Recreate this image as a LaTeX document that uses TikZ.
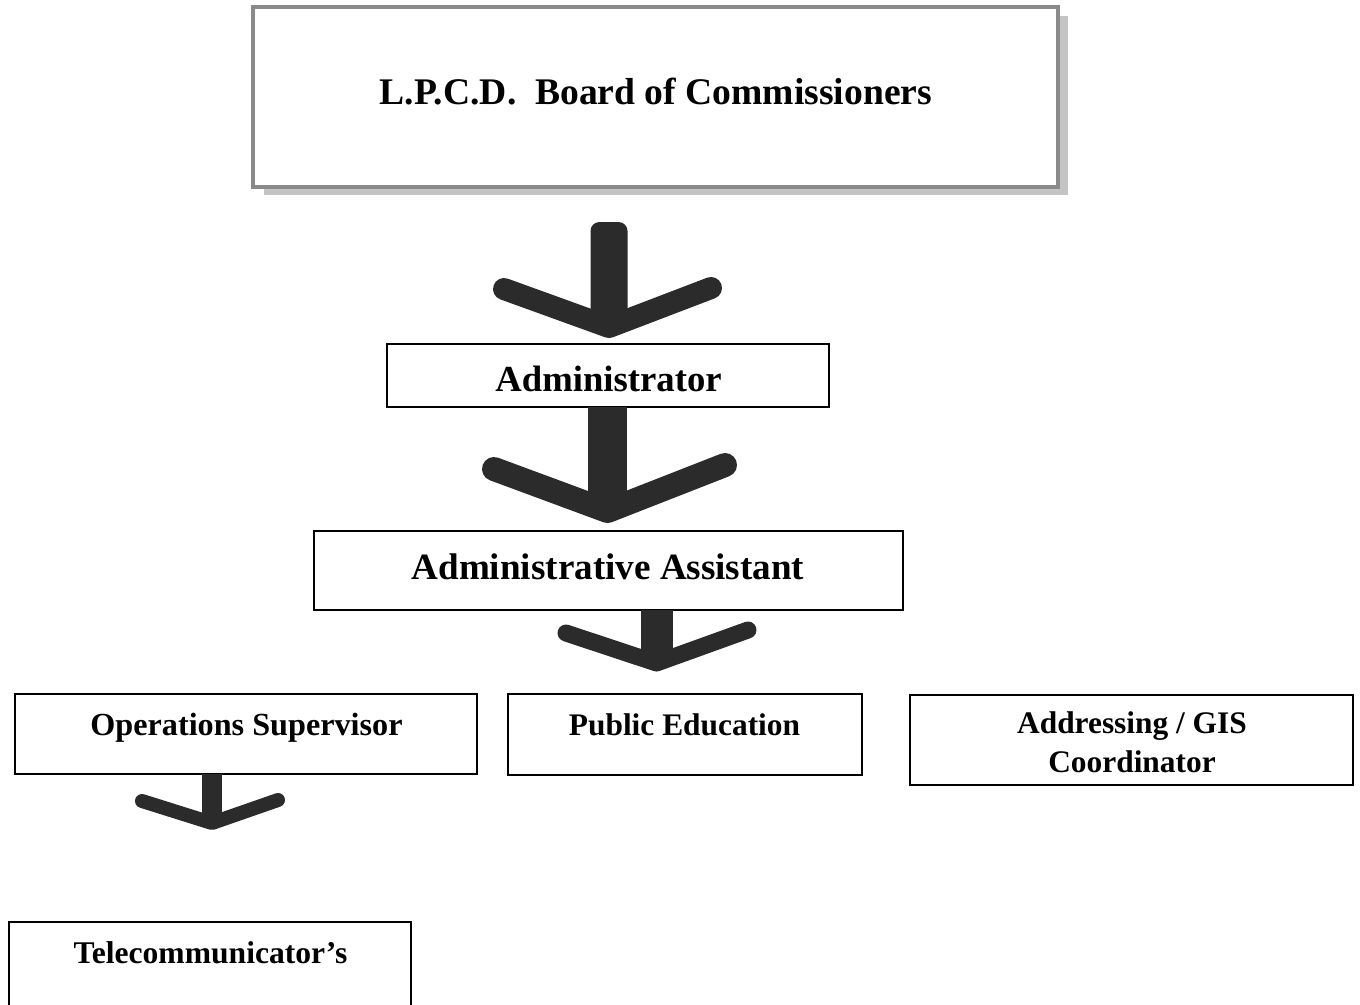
\documentclass[tikz,border=0pt]{standalone}
\usepackage{fontspec}
\setmainfont{Liberation Serif}
\newcommand\myfs[1]{\fontsize{#1}{#1}\selectfont}
\definecolor{arrowc}{HTML}{2B2B2B}
\definecolor{topborder}{HTML}{8A8A8A}
\definecolor{shadowc}{HTML}{C4C4C4}
\tikzset{
  box/.style={draw=black, line width=1.8, fill=white, inner sep=0, outer sep=0},
  topbox/.style={draw=topborder, line width=3.5, fill=white, inner sep=0, outer sep=0},
  lbl/.style={inner sep=0, outer sep=0, anchor=base, font=\bfseries\myfs{31.4}},
  stembar/.style={fill=arrowc, rounded corners=9},
  stembox/.style={draw=arrowc, line cap=butt},
  armline/.style={draw=arrowc, line cap=round, line join=round},
}
\begin{document}
\begin{tikzpicture}[x=1pt,y=-1pt]
\useasboundingbox (0,0) rectangle (1360,1004);
\clip (0,0) rectangle (1360,1004);
\fill[white] (0,0) rectangle (1360,1004);

% top box with shadow
\fill[shadowc] (264,16) rectangle (1068,195);
\node[topbox, minimum width=805, minimum height=180] (board) at (655.5,97) {};
\node[lbl, font=\bfseries\myfs{37.6}] (boardtxt) at (656,104) {L.P.C.D.\ \ Board of Commissioners};

% boxes
\node[box, minimum width=442, minimum height=63] (admin) at (608,375.5) {};
\node[lbl, font=\bfseries\myfs{36.7}] (admintxt) at (608.5,391) {Administrator};

\node[box, minimum width=589, minimum height=79] (assist) at (608.5,570.5) {};
\node[lbl, font=\bfseries\myfs{37.1}] (assisttxt) at (608,579) {Administrative Assistant};

\node[box, minimum width=462, minimum height=80] (ops) at (246,734) {};
\node[lbl, font=\bfseries\myfs{32.2}] (opstxt) at (246.5,735) {Operations Supervisor};

\node[box, minimum width=354, minimum height=81] (pubed) at (685,734.5) {};
\node[lbl] (pubedtxt) at (684.5,735) {Public Education};

\node[box, minimum width=443, minimum height=90] (addr) at (1131.5,740) {};
\node[lbl] (addrtxta) at (1132,733) {Addressing / GIS};
\node[lbl] (addrtxtb) at (1132,772) {Coordinator};

\node[box, minimum width=402, minimum height=90] (tele) at (210,967) {};
\node[lbl, font=\bfseries\myfs{31.6}] (teletxt) at (210.5,963) {Telecommunicator’s};

% arrow 1: board -> administrator
\coordinate (a1top) at (609,222);
\coordinate (a1tip) at (609,327);
\coordinate (a1l) at (504,289);
\coordinate (a1r) at (711,288);
\fill[stembar] ([xshift=-18.5]a1top) rectangle ([xshift=18.5]a1tip);
\draw[armline, line width=22] (a1l) -- (a1tip) -- (a1r);

% arrow 2: administrator -> assistant
\coordinate (a2tip) at (607.5,511);
\coordinate (a2l) at (494,469);
\coordinate (a2r) at (725,465);
\draw[stembox, line width=39] (a2tip |- admin.south) -- (a2tip);
\draw[armline, line width=24] (a2l) -- (a2tip) -- (a2r);

% arrow 3: assistant -> staff
\coordinate (a3tip) at (656.5,663);
\coordinate (a3l) at (566,633);
\coordinate (a3r) at (748,630);
\draw[stembox, line width=32] (a3tip |- assist.south) -- (a3tip);
\draw[armline, line width=17] (a3l) -- (a3tip) -- (a3r);

% arrow 4: operations -> telecommunicators
\coordinate (a4tip) at (212,823);
\coordinate (a4l) at (142,801);
\coordinate (a4r) at (278,800);
\draw[stembox, line width=20] (a4tip |- ops.south) -- (a4tip);
\draw[armline, line width=14] (a4l) -- (a4tip) -- (a4r);
\end{tikzpicture}
\end{document}
